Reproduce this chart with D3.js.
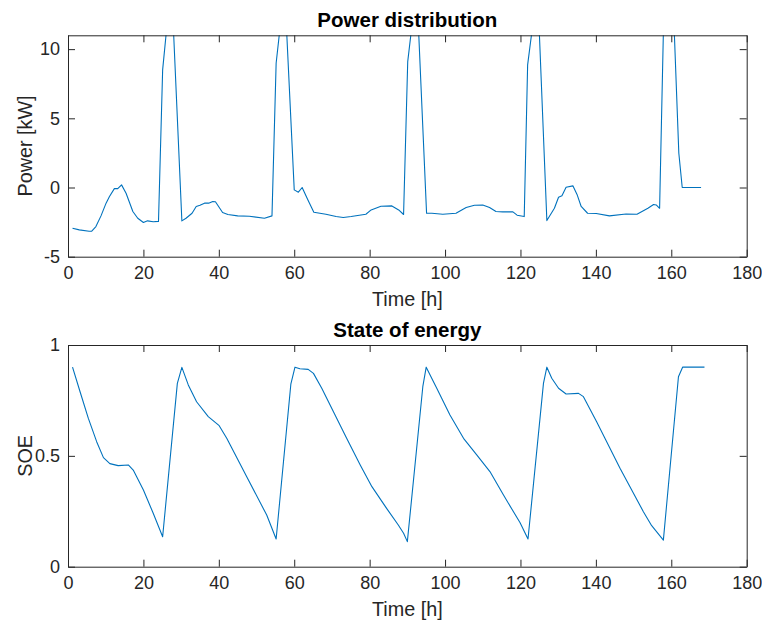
<!DOCTYPE html>
<html>
<head>
<meta charset="utf-8" />
<title>Power distribution / State of energy</title>
<style>
* { padding: 0; margin: 0; }
body { background: #fff; }
svg text { font-family: "Liberation Sans", Arial, Helvetica, sans-serif; fill: #262626; }
</style>
</head>
<body>
<div id="chart"></div>
<script src="https://cdn.jsdelivr.net/npm/d3@7"></script>
<script>
    // power [kW] (time in h)
    var powerTime = [1.2, 3.0, 5.6, 6.3, 7.4, 8.75, 10.1, 11.0, 12.3, 13.2, 14.2, 15.4, 17.2, 18.5, 20.0, 21.1, 22.6, 24.0,
        25.1, 26.1, 27.0, 28.0, 30.2, 31.3, 32.9, 34.0, 35.0, 36.2, 37.3, 38.4, 39.1, 41.0, 42.4, 45.0, 48.1, 52.1, 54.1,
        55.2, 56.1, 57.0, 58.0, 60.0, 61.1, 62.1, 63.6, 65.2, 68.4, 71.1, 73.0, 75.1, 79.0, 80.4, 83.0, 85.9, 87.7, 89.0,
        90.1, 91.0, 92.0, 93.0, 95.1, 96.5, 99.4, 102.9, 105.6, 107.8, 110.0, 111.8, 113.5, 115.3, 118.0, 119.1, 121.0,
        121.9, 123.0, 124.0, 125.0, 127.0, 129.0, 130.1, 131.0, 132.1, 133.9, 135.0, 136.1, 137.8, 140.1, 143.6, 148.0,
        150.9, 153.8, 155.3, 156.0, 156.9, 157.9, 159.0, 160.0, 160.8, 162.0, 162.9, 167.9]
    var powerKW = [-2.94, -3.06, -3.16, -3.15, -2.82, -2.05, -1.13, -0.65, -0.08, -0.08, 0.19, -0.41, -1.73, -2.22, -2.53, -2.41, -2.47, -2.45,
        8.5, 11.3, 13, 11.2, -2.41, -2.22, -1.86, -1.37, -1.28, -1.13, -1.13, -1.01, -1.03, -1.81, -1.95, -2.05, -2.08, -2.22, -2.05,
        8.98, 11.2, 13, 11.2, -0.17, -0.34, 0, -0.89, -1.79, -1.93, -2.1, -2.17, -2.1, -1.93, -1.62, -1.35, -1.33, -1.62, -1.95,
        9.1, 11.2, 13, 11.2, -1.86, -1.86, -1.93, -1.86, -1.45, -1.28, -1.26, -1.45, -1.73, -1.76, -1.76, -2.0, -2.1,
        8.86, 11.2, 13, 11.2, -2.39, -1.5, -0.7, -0.6, 0.02, 0.12, -0.5, -1.37, -1.86, -1.88, -2.05, -1.91,
        -1.93, -1.5, -1.23, -1.26, -1.5, 11.2, 13, 13, 11.2, 2.48, 0, 0]

    // state of energy
    var soeTime = [1.2, 3.2, 5.4, 7.6, 9.4, 11.1, 13.3, 16.0, 17.3, 20.0, 22.6, 25.1, 29.0, 30.2, 31.9, 34.1, 37.2, 40.1,
        42.1, 47.4, 52.7, 55.2, 59.1, 60.2, 61.5, 63.7, 65.1, 67.3, 70.4, 73.9, 77.5, 80.6, 84.5, 87.6, 89.0, 90.0, 94.1,
        95.0, 97.8, 101.3, 104.9, 108.4, 111.9, 115.5, 119.9, 122.0, 126.1, 127.0, 128.3, 130.1, 132.1, 135.4, 136.7,
        140.2, 146.4, 152.6, 154.8, 157.9, 161.9, 163.0, 168.8]
    var soe = [0.90, 0.789, 0.669, 0.564, 0.492, 0.465, 0.456, 0.459, 0.436, 0.346, 0.241, 0.135, 0.827, 0.899, 0.82, 0.744, 0.677, 0.636,
        0.579, 0.406, 0.233, 0.125, 0.823, 0.9, 0.893, 0.89, 0.872, 0.805, 0.699, 0.579, 0.459, 0.361, 0.263, 0.188, 0.151, 0.113, 0.812,
        0.9, 0.805, 0.684, 0.579, 0.504, 0.429, 0.323, 0.198, 0.125, 0.827, 0.9, 0.85, 0.805, 0.779, 0.782, 0.767,
        0.654, 0.444, 0.248, 0.185, 0.12, 0.857, 0.9, 0.9]

    var xTicks = [0, 20, 40, 60, 80, 100, 120, 140, 160, 180]
    var powerTicks = [-5, 0, 5, 10]
    var soeTicks = [0, 0.5, 1]

    var width = 762, height = 626
    var axColor = "#262626", lineColor = "#0072BD"
    var tickLen = 7

    var svg = d3.select("#chart").append("svg")
        .attr("width", width).attr("height", height)

    var x = d3.scaleLinear().domain([0, 180]).range([68, 746.7])

    drawPanel({
        top: 35.3, bottom: 256.7, ydom: [-5, 11], yticks: powerTicks,
        title: "Power distribution", ylabel: "Power [kW]", xs: powerTime, ys: powerKW, id: "p1"
    })
    drawPanel({
        top: 345, bottom: 566.7, ydom: [0, 1], yticks: soeTicks,
        title: "State of energy", ylabel: "SOE", xs: soeTime, ys: soe, id: "p2"
    })

    function drawPanel(o) {
        var y = d3.scaleLinear().domain(o.ydom).range([o.bottom, o.top])
        var g = svg.append("g")

        g.append("clipPath").attr("id", "clip-" + o.id)
            .append("rect")
            .attr("x", x.range()[0]).attr("y", o.top)
            .attr("width", x.range()[1] - x.range()[0]).attr("height", o.bottom - o.top)

        var pts = o.xs.map(function(t, i) { return [t, o.ys[i]] })
        var line = d3.line()
            .x(function(d) { return x(d[0]) })
            .y(function(d) { return y(d[1]) })

        g.append("path")
            .datum(pts)
            .attr("clip-path", "url(#clip-" + o.id + ")")
            .attr("fill", "none")
            .attr("stroke", lineColor)
            .attr("stroke-width", 1.1)
            .attr("stroke-linejoin", "round")
            .attr("d", line)

        // axes with inward ticks, mirrored on top and right
        var bottomAx = g.append("g")
            .attr("transform", "translate(0," + o.bottom + ")")
            .call(d3.axisBottom(x).tickValues(xTicks).tickSizeInner(-tickLen).tickSizeOuter(0).tickPadding(10))
        var topAx = g.append("g")
            .attr("transform", "translate(0," + o.top + ")")
            .call(d3.axisTop(x).tickValues(xTicks).tickSizeInner(-tickLen).tickSizeOuter(0).tickFormat(""))
        var leftAx = g.append("g")
            .attr("transform", "translate(" + x.range()[0] + ",0)")
            .call(d3.axisLeft(y).tickValues(o.yticks).tickSizeInner(-tickLen).tickSizeOuter(0).tickPadding(8)
                .tickFormat(function(d) { return d }))
        var rightAx = g.append("g")
            .attr("transform", "translate(" + x.range()[1] + ",0)")
            .call(d3.axisRight(y).tickValues(o.yticks).tickSizeInner(-tickLen).tickSizeOuter(0).tickFormat(""))

        ;[bottomAx, topAx, leftAx, rightAx].forEach(function(a) {
            a.select(".domain").attr("stroke", axColor)
            a.selectAll(".tick line").attr("stroke", axColor)
            a.selectAll("text").attr("fill", axColor).attr("font-family", null).style("font-size", "18px")
        })

        g.append("text")
            .attr("x", (x.range()[0] + x.range()[1]) / 2)
            .attr("y", o.top - 8)
            .attr("text-anchor", "middle")
            .style("font-size", "20.5px").style("font-weight", "bold")
            .style("fill", "#000")
            .text(o.title)

        g.append("text")
            .attr("x", (x.range()[0] + x.range()[1]) / 2)
            .attr("y", o.bottom + 49)
            .attr("text-anchor", "middle")
            .style("font-size", "19.8px")
            .text("Time [h]")

        g.append("text")
            .attr("transform", "translate(32," + ((o.top + o.bottom) / 2) + ") rotate(-90)")
            .attr("text-anchor", "middle")
            .style("font-size", "19.8px")
            .text(o.ylabel)
    }
</script>
</body>
</html>
